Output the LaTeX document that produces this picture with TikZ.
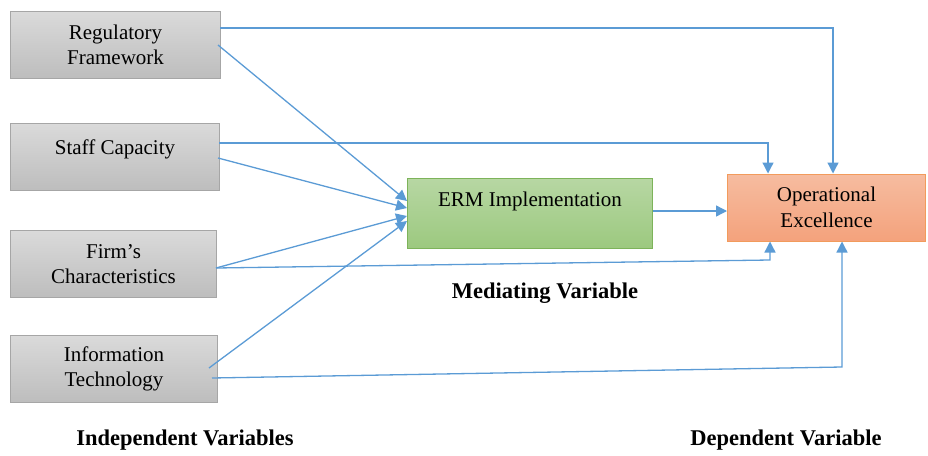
\documentclass[tikz,border=0pt]{standalone}
\usepackage{fontspec}
\setmainfont{Liberation Serif}
\usetikzlibrary{arrows.meta,calc}
\definecolor{lineblue}{HTML}{5B9BD5}
\definecolor{greytop}{HTML}{DADADA}
\definecolor{greybot}{HTML}{BDBDBD}
\definecolor{greyline}{HTML}{A6A6A6}
\definecolor{greentop}{HTML}{B7D7A3}
\definecolor{greenbot}{HTML}{9CC97F}
\definecolor{greenline}{HTML}{7DB35A}
\definecolor{orangetop}{HTML}{F6BCA0}
\definecolor{orangebot}{HTML}{F4A27C}
\definecolor{orangeline}{HTML}{F29B5C}
\begin{document}
\begin{tikzpicture}[x=1pt,y=-1pt,
  txt/.style={font=\fontsize{21}{25.5}\selectfont},
  box/.style={draw, line width=1pt, anchor=north west, align=center, inner sep=0pt, txt},
  gbox/.style={box, draw=greyline, top color=greytop, bottom color=greybot},
  arr/.style={draw=lineblue, line width=1.3pt, -{Triangle[length=11pt,width=11pt]}},
  lab/.style={font=\fontsize{22.5}{26}\selectfont\bfseries}]
\useasboundingbox (0,0) rectangle (928,455);

\node[gbox, minimum width=210pt, minimum height=67pt] (reg) at (10,11) {Regulatory\\Framework};
\node[gbox, minimum width=209pt, minimum height=67pt] (staff) at (10,123) {};
\node[txt] (stafft) at ($(staff.center)+(0,-8)$) {Staff Capacity};
\node[gbox, minimum width=206pt, minimum height=67pt] (firm) at (10,230) {Firm’s\\Characteristics};
\node[gbox, minimum width=207pt, minimum height=67pt] (it) at (10,335) {Information\\Technology};

\node[box, draw=greenline, top color=greentop, bottom color=greenbot,
  minimum width=245pt, minimum height=70pt] (erm) at (407,178) {};
\node[txt] (ermt) at ($(erm.north)+(0,23)$) {ERM Implementation};

\node[box, draw=orangeline, top color=orangetop, bottom color=orangebot,
  minimum width=198pt, minimum height=67pt] (oe) at (727,173.5) {Operational\\Excellence};

% named ports
\coordinate (regA) at (220,28);
\coordinate (regB) at (218,45);
\coordinate (staffA) at (219,143);
\coordinate (staffB) at (218,158);
\coordinate (firmA) at (216,268);
\coordinate (itA) at (209,368);
\coordinate (itB) at (212,378);
\coordinate (bendR) at (833,28);
\coordinate (bendS) at (768,143);
\coordinate (bendF) at (770,260);
\coordinate (bendI) at (842,367);
\coordinate (e1) at (407,201);
\coordinate (e2) at (407,208);
\coordinate (e3) at (407,216);
\coordinate (e4) at (407,221);

\draw[arr] (regA) -- (bendR) -- (bendR |- oe.north);
\draw[arr] (regB) -- (e1);
\draw[arr] (staffA) -- (bendS) -- (bendS |- oe.north);
\draw[arr] (staffB) -- (e2);
\draw[arr] (firmA) -- (e3);
\draw[arr] (firmA) -- (bendF) -- (bendF |- oe.south);
\draw[arr] (itA) -- (e4);
\draw[arr] (itB) -- (bendI) -- (bendI |- oe.south);
\draw[arr] (erm.east |- 0,211) -- (oe.west |- 0,211);

\node[lab] (med) at (545,293) {Mediating Variable};
\node[lab] (ind) at (185,440) {Independent Variables};
\node[lab] (dep) at (786,440) {Dependent Variable};
\end{tikzpicture}
\end{document}
